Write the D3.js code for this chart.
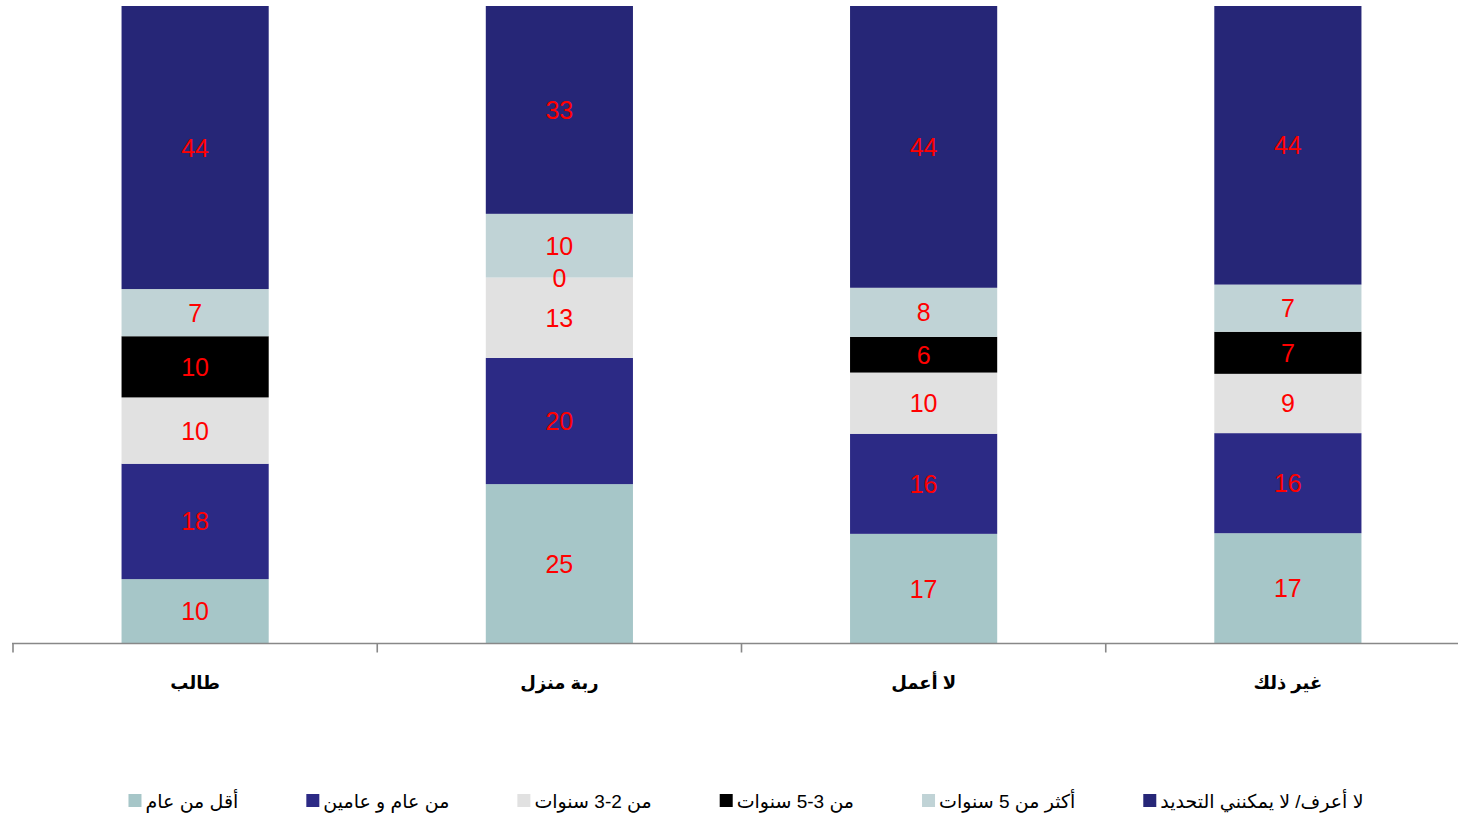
<!DOCTYPE html>
<html><head><meta charset="utf-8">
<script src="https://cdn.jsdelivr.net/npm/d3@7"></script>
<style>body{margin:0;background:#fff;} svg{display:block;}</style>
</head><body><svg id="c" width="1458" height="818"></svg>
<script>
const categories = ["طالب", "ربة منزل", "لا أعمل", "غير ذلك"];
const seriesNames = ["أقل من عام", "من عام و عامين", "من 2-3 سنوات", "من 3-5 سنوات", "أكثر من 5 سنوات", "لا أعرف/ لا يمكنني التحديد"];
const lessThanYear    = [10.1, 25.0, 17.2, 17.3];
const oneToTwoYears   = [18.1, 19.8, 15.7, 15.7];
const twoToThreeYears = [10.4, 12.6,  9.6,  9.3];
const threeToFive     = [ 9.6,  0.0,  5.6,  6.6];
const moreThanFive    = [ 7.4, 10.0,  7.7,  7.4];
const dontKnow        = [44.4, 32.6, 44.2, 43.7];
const yDomain = [0, 100];

const seriesValues = [lessThanYear, oneToTwoYears, twoToThreeYears, threeToFive, moreThanFive, dontKnow];
const colors = ["#A6C6C8", "#2C2A85", "#E1E1E1", "#000000", "#C0D3D6", "#262677"];

const svg = d3.select("#c");
const table = categories.map((c, i) => {
  const row = {cat: c};
  seriesNames.forEach((s, j) => row[s] = seriesValues[j][i]);
  return row;
});
const stacked = d3.stack().keys(seriesNames)(table);

const x = d3.scaleBand().domain(categories).range([13, 1470]).paddingInner(0.596).paddingOuter(0.298);
const y = d3.scaleLinear().domain(yDomain).range([643.5, 6]);

const gSeries = svg.append("g").selectAll("g").data(stacked).join("g")
  .attr("fill", (d, i) => colors[i]);
gSeries.selectAll("rect").data(d => d).join("rect")
  .attr("x", d => x(d.data.cat))
  .attr("width", x.bandwidth())
  .attr("y", d => y(d[1]))
  .attr("height", d => y(d[0]) - y(d[1]));

const fmt = d3.format(".0f");
svg.append("g").selectAll("g").data(stacked).join("g")
  .selectAll("text").data(d => d).join("text")
  .attr("x", d => x(d.data.cat) + x.bandwidth() / 2)
  .attr("y", d => (y(d[0]) + y(d[1])) / 2)
  .attr("dy", "0.36em")
  .attr("text-anchor", "middle")
  .attr("fill", "#FF0000")
  .attr("font-family", "'Liberation Sans', Arial, sans-serif")
  .attr("font-size", 25)
  .text(d => fmt(d[1] - d[0]));

// axis
const axisG = svg.append("g").attr("transform", "translate(0,643.5)");
axisG.append("line").attr("x1", 12).attr("x2", 1458).attr("y1", 0).attr("y2", 0)
  .attr("stroke", "#888").attr("stroke-width", 1.6);
const bounds = d3.range(categories.length + 1).map(i => x.range()[0] + i * x.step());
axisG.selectAll("line.tick").data(bounds).join("line").attr("class", "tick")
  .attr("x1", d => d).attr("x2", d => d).attr("y1", 0).attr("y2", 9)
  .attr("stroke", "#888").attr("stroke-width", 1.6);
const ax = d3.axisBottom(x).tickSize(0).tickPadding(0);
const axLabels = svg.append("g").attr("transform", "translate(0,683)").call(ax);
axLabels.select(".domain").remove();
axLabels.selectAll("text")
  .attr("dy", "0.35em")
  .attr("font-family", "'Liberation Sans', Arial, 'DejaVu Sans', sans-serif")
  .attr("font-size", 18).attr("font-weight", "bold").attr("fill", "#000");

// legend
const legend = svg.append("g").attr("transform", "translate(0,801)");
const items = legend.selectAll("g").data(seriesNames).join("g");
items.append("rect").attr("x", 0).attr("y", -7).attr("width", 13).attr("height", 13)
  .attr("fill", (d, i) => colors[i]);
items.append("text").attr("x", 17).attr("y", 0).attr("dy", "0.35em")
  .attr("font-family", "'Liberation Sans', Arial, 'DejaVu Sans', sans-serif")
  .attr("font-size", 19).attr("fill", "#000").text(d => d);
let cx = 0;
const gap = 68;
const positions = [];
items.each(function() {
  const w = d3.select(this).select("text").node().getComputedTextLength();
  positions.push(cx);
  cx += 17 + w + gap;
});
const total = cx - gap;
const start = 746 - total / 2;
items.attr("transform", (d, i) => `translate(${start + positions[i]},0)`);
</script></body></html>
